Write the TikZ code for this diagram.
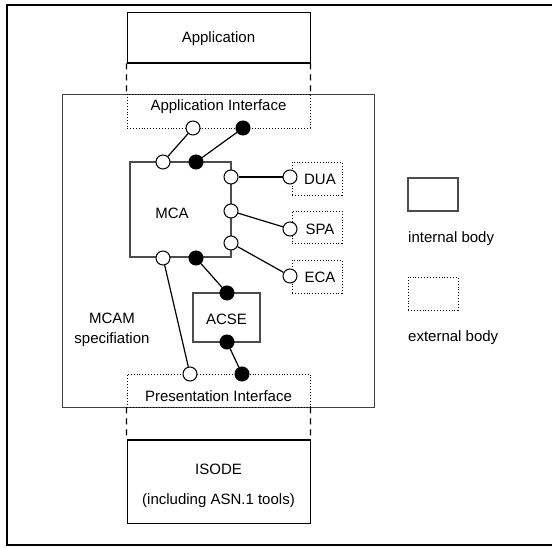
\documentclass[tikz,border=0pt]{standalone}
\usepackage{fontspec}
\setmainfont{Liberation Sans}
\tikzset{
  body/.style={draw, inner sep=0pt},
  intbody/.style={body, line width=1.6pt, draw=black!70},
  extbody/.style={body, line width=0.9pt, dotted},
  solidbody/.style={body, line width=1pt},
  port/.style={circle, draw, line width=1pt, fill=white, minimum size=14pt, inner sep=0pt},
  portf/.style={port, fill=black},
  link/.style={line width=1.2pt},
  gap/.style={line width=1.3pt, dash pattern=on 6pt off 5pt},
  txt/.style={font=\fontsize{15}{18}\selectfont, inner sep=0pt}
}
\begin{document}
\begin{tikzpicture}[x=1pt,y=-1pt]
\useasboundingbox (0,0) rectangle (552,548);
% frame, open on the right
\draw[line width=1.2pt] (570,5) -- (7,5) -- (7,545) -- (570,545);

% MCAM specification
\node[solidbody, draw=black!75, line width=0.9pt, minimum width=312pt, minimum height=313pt] (mcam) at (218,250.5) {};
\node[txt] (mcamt) at (112,318) {MCAM};
\node[txt] (spec) at (112,340) {specifiation};

% application side
\node[solidbody, minimum width=183pt, minimum height=50pt] (app) at (218.5,38) {};
\node[txt] (appt) at (218.5,39) {Application};
\draw[line width=2pt] (app.south west) -- (app.south east);
\node[extbody, minimum width=183pt, minimum height=34pt] (appif) at (218.5,111) {};
\node[txt] (appift) at (218.5,107) {Application Interface};
\draw[gap] (app.south west) -- (appif.north west);
\draw[gap] (app.south east) -- (appif.north east);

% presentation side
\node[extbody, minimum width=183pt, minimum height=33pt] (presif) at (218.5,390.5) {};
\node[txt] (presift) at (218.5,396) {Presentation Interface};
\node[solidbody, minimum width=183pt, minimum height=83pt] (isode) at (218.5,481.5) {};
\draw[line width=2pt] (isode.north west) -- (isode.north east);
\node[txt] (isodet) at (218.5,469) {ISODE};
\node[txt] (asn) at (218.5,501) {(including ASN.1 tools)};
\draw[gap] (presif.south west) -- (isode.north west);
\draw[gap] (presif.south east) -- (isode.north east);

% bodies
\node[intbody, minimum width=101pt, minimum height=95pt] (mca) at (180.5,209.5) {};
\node[txt] (mcat) at (172,213) {MCA};
\node[intbody, minimum width=67pt, minimum height=49pt] (acse) at (226.5,317.5) {};
\node[txt] (acset) at (226.5,319) {ACSE};
\node[extbody, minimum width=50pt, minimum height=33pt] (dua) at (317,178.5) {};
\node[txt] (duat) at (320,179) {DUA};
\node[extbody, minimum width=50pt, minimum height=32pt] (spa) at (317,227) {};
\node[txt] (spat) at (320,229) {SPA};
\node[extbody, minimum width=50pt, minimum height=33pt] (eca) at (317,276.5) {};
\node[txt] (ecat) at (320,277) {ECA};

% ports
\node[port] (ai1) at (193,128) {};
\node[portf] (ai2) at (243,128) {};
\node[port] (mt1) at (163,162) {};
\node[portf] (mt2) at (196,162) {};
\node[port] (mr1) at (231,177) {};
\node[port] (mr2) at (231,211) {};
\node[port] (mr3) at (231,243) {};
\node[port] (mb1) at (163,258) {};
\node[portf] (mb2) at (196,258) {};
\node[port] (du) at (290,177) {};
\node[port] (sp) at (290,229) {};
\node[port] (ec) at (290,276) {};
\node[portf] (at1) at (227,293) {};
\node[portf] (at2) at (227,342) {};
\node[port] (pi1) at (190,374) {};
\node[portf] (pi2) at (242,374) {};

% connections
\draw[link] (mt1) -- (ai1);
\draw[link] (mt2) -- (ai2);
\draw[link] (mr1) -- (du);
\draw[link] (mr2) -- (sp);
\draw[link] (mr3) -- (ec);
\draw[link] (mb1) -- (pi1);
\draw[link] (mb2) -- (at1);
\draw[link] (at2) -- (pi2);

% legend
\node[intbody, minimum width=50pt, minimum height=33pt] (legint) at (433,194.5) {};
\node[txt, anchor=west] (legintt) at (408,239) {internal body};
\node[extbody, minimum width=50pt, minimum height=33pt] (legext) at (433,293.5) {};
\node[txt, anchor=west] (legextt) at (408,338) {external body};
\end{tikzpicture}
\end{document}
